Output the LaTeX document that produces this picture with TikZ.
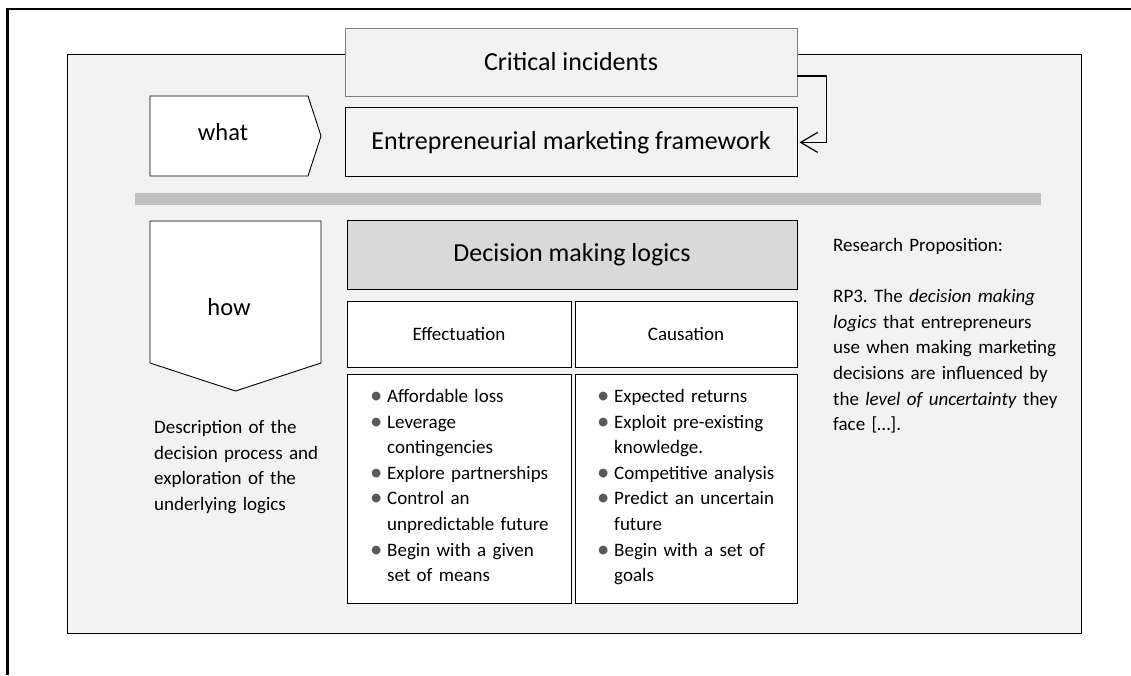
\documentclass[tikz,border=0pt]{standalone}
\usepackage{fontspec}
\setmainfont{Carlito}
\usetikzlibrary{positioning,arrows.meta}
\frenchspacing

\definecolor{panelgray}{HTML}{F2F2F2}
\definecolor{headgray}{HTML}{D9D9D9}
\definecolor{bargray}{HTML}{BFBFBF}
\definecolor{edgegray}{HTML}{808080}
\definecolor{dotgray}{HTML}{595959}

\newcommand{\bul}{\makebox[17pt][l]{\textcolor{dotgray}{\raisebox{-1pt}{\scalebox{1.3}{\textbullet}}}}}
\newcommand{\ind}{\hspace*{17pt}}

\begin{document}
\begin{tikzpicture}[x=1pt,y=-1pt,
  panel/.style={draw,line width=0.8pt,fill=panelgray,minimum width=1014pt,minimum height=579pt,inner sep=0pt},
  box/.style={draw,line width=1pt,fill=panelgray,minimum width=452pt,minimum height=69pt,inner sep=0pt,font=\fontsize{26}{31}\selectfont},
  cell/.style={draw,line width=1pt,fill=white,minimum height=66pt,inner sep=0pt,font=\fontsize{19}{25.6}\selectfont},
  arrowbox/.style={draw,line width=0.9pt,fill=white},
  bigtext/.style={inner sep=0pt,font=\fontsize{24.5}{29}\selectfont},
  items/.style={inner sep=0pt,align=left,anchor=base west,font=\fontsize{19}{25.6}\selectfont}]
  \useasboundingbox (0,0) rectangle (1131,675);
  \draw[line width=2.2pt] (7.5,675) -- (7.5,9) -- (1131,9);
  \node[panel] (panel) at (574,343.5) {};

  \node[box,draw=edgegray,line width=0.8pt,minimum height=68pt] (crit) at (571,62) {Critical incidents};
  \node[box,below=11pt of crit] (emf) {Entrepreneurial marketing framework};
  \draw[line width=1.2pt,-{Straight Barb[length=17pt,width=20pt]},shorten >=2pt]
    ([yshift=-14pt]crit.east) -- ++(29pt,0) |- (emf.east);

  \draw[arrowbox] (150,96) -- (308,96) -- (321,136) -- (308,176) -- (150,176) -- cycle;
  \node[bigtext] (what) at (223,132) {what};

  \fill[bargray] (135,193) rectangle (1041,205);

  \draw[arrowbox] (150,221) -- (321,221) -- (321,363) -- (235.5,391) -- (150,363) -- cycle;
  \node[bigtext] (how) at (229,307) {how};

  \node[box,fill=headgray,minimum width=450pt] (dml) at (572,254.5) {Decision making logics};
  \node[cell,anchor=north west,minimum width=224pt] (eff) at ([yshift=-11pt]dml.south west) {Effectuation};
  \node[cell,anchor=north east,minimum width=222pt] (cau) at ([yshift=-11pt]dml.south east) {Causation};
  \node[cell,below=6pt of eff,minimum width=224pt,minimum height=229pt] (effbody) {};
  \node[cell,below=6pt of cau,minimum width=222pt,minimum height=229pt] (caubody) {};

  \node[items,text width=200pt] (effitems) at (370,402.5) {\bul Affordable loss\\ \bul Leverage\\ \ind contingencies\\
    \bul Explore partnerships\\ \bul Control an\\ \ind unpredictable future\\ \bul Begin with a given\\ \ind set of means};
  \node[items,text width=200pt] (cauitems) at (597,402.5) {\bul Expected returns\\ \bul Exploit pre-existing\\ \ind knowledge.\\
    \bul Competitive analysis\\ \bul Predict an uncertain\\ \ind future\\ \bul Begin with a set of\\ \ind goals};

  \node[items,text width=180pt] (howtext) at (154,433.5) {Description of the\\ decision process and\\ exploration of the\\ underlying logics};
  \node[items,text width=240pt] (rp) at (833,251.5) {Research Proposition:\\[25.6pt]
    RP3. The \textit{decision making}\\ \textit{logics} that entrepreneurs\\ use when making marketing\\
    decisions are influenced by\\ the \textit{level of uncertainty} they\\ face [\dots].};
\end{tikzpicture}
\end{document}
